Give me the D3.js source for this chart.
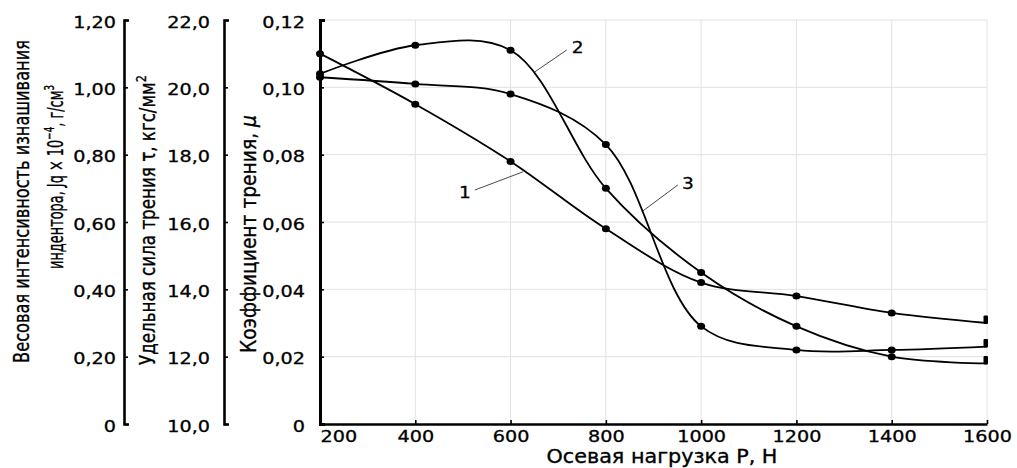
<!DOCTYPE html>
<html><head><meta charset="utf-8">
<script src="https://cdn.jsdelivr.net/npm/d3@7"></script>
<style>body{margin:0;background:#fff;} svg{display:block;}</style>
</head><body>
<svg id="chart" width="1017" height="468"></svg>
<script>
// ---------- DATA ----------
const loads  = [200, 400, 600, 800, 1000, 1200, 1400, 1600];
const curve1 = [0.110, 0.095, 0.078, 0.058, 0.042, 0.038, 0.033, 0.030];
const curve2 = [0.104, 0.1125, 0.111, 0.070, 0.045, 0.029, 0.020, 0.018];
const curve3 = [0.103, 0.101, 0.098, 0.083, 0.029, 0.022, 0.022, 0.023];
const seriesNames = ["1", "2", "3"];
const xTicks   = [200, 400, 600, 800, 1000, 1200, 1400, 1600];
const muTicks  = [0, 0.02, 0.04, 0.06, 0.08, 0.10, 0.12];
const jqTicks  = [0, 0.2, 0.4, 0.6, 0.8, 1.0, 1.2];
const tauTicks = [10, 12, 14, 16, 18, 20, 22];
// curve-number annotations (data coordinates: load, mu) and their leader lines
const labelPos  = [[504, 0.0689], [741, 0.1117], [972, 0.0713]];
const leaderA   = [[525, 0.0695], [718, 0.1111], [951, 0.0710]];
const leaderB   = [[626, 0.0749], [651, 0.1046], [878, 0.0633]];

// ---------- LAYOUT ----------
const FONT = "'DejaVu Sans', Verdana, sans-serif";
const svg = d3.select("#chart");
const X0 = 320, X1 = 987, Y0 = 424, Y1 = 20;
const x   = d3.scaleLinear().domain([200, 1600]).range([X0, X1]);
const yMu = d3.scaleLinear().domain([0, 0.12]).range([Y0, Y1]);
const yJq = d3.scaleLinear().domain([0, 1.2]).range([Y0, Y1]);
const yTau= d3.scaleLinear().domain([10, 22]).range([Y0, Y1]);
const comma = s => s.replace(".", ",");
const TS = 1.28; // horizontal stretch of tick text
const TF = 15;   // tick font size

// grid
const grid = svg.append("g").attr("stroke", "#e2e2e2").attr("stroke-width", 1);
grid.selectAll("line.v").data(xTicks.slice(1)).join("line")
  .attr("x1", d => x(d)).attr("x2", d => x(d)).attr("y1", Y1).attr("y2", Y0);
grid.selectAll("line.h").data(muTicks.slice(1)).join("line")
  .attr("x1", X0).attr("x2", X1).attr("y1", d => yMu(d)).attr("y2", d => yMu(d));

function styleAxis(g, sw) {
  g.select(".domain").attr("stroke", "#000").attr("stroke-width", sw);
  g.selectAll(".tick line").attr("stroke", "#000").attr("stroke-width", 1.6);
}
function styleText(sel, size) {
  sel.attr("font-family", FONT).attr("font-size", size).attr("fill", "#000")
    .attr("stroke", "#000").attr("stroke-width", 0.3);
}
function stretchYLabels(g, pad) {
  const t = g.selectAll(".tick text").attr("x", null).attr("dy", null)
    .attr("text-anchor", "end")
    .attr("transform", `translate(${-pad},7) scale(${TS},1)`);
  styleText(t, TF);
}

// left axis: Jq
const gJq = svg.append("g").attr("transform", "translate(124,0)")
  .call(d3.axisLeft(yJq).tickValues(jqTicks).tickSizeInner(-4).tickSizeOuter(-5)
    .tickPadding(0).tickFormat(d => d === 0 ? "0" : comma(d3.format(".2f")(d))));
styleAxis(gJq, 2.6); stretchYLabels(gJq, 8);

// left axis: tau
const gTau = svg.append("g").attr("transform", "translate(224,0)")
  .call(d3.axisLeft(yTau).tickValues(tauTicks).tickSizeInner(-4).tickSizeOuter(-5)
    .tickPadding(0).tickFormat(d => comma(d3.format(".1f")(d))));
styleAxis(gTau, 2.6); stretchYLabels(gTau, 14);

// main axis: mu
const gMu = svg.append("g").attr("transform", `translate(${X0},0)`)
  .call(d3.axisLeft(yMu).tickValues(muTicks).tickSizeInner(-4).tickSizeOuter(-5)
    .tickPadding(0).tickFormat(d => d === 0 ? "0" : comma(d3.format(".2f")(d))));
styleAxis(gMu, 3); stretchYLabels(gMu, 15);

// x axis
const gX = svg.append("g").attr("transform", `translate(0,${Y0})`)
  .call(d3.axisBottom(x).tickValues(xTicks).tickSizeInner(-4).tickSizeOuter(0)
    .tickPadding(0).tickFormat(d3.format("d")));
styleAxis(gX, 2.6);
const xt = gX.selectAll(".tick text").attr("y", null).attr("dy", null)
  .attr("text-anchor", (d, i) => i === 0 ? "start" : "middle")
  .attr("transform", `translate(0,18) scale(${TS},1)`);
styleText(xt, TF);

// curves
const line = d3.line().x((d, i) => x(loads[i])).y(d => yMu(d)).curve(d3.curveCatmullRom.alpha(0.5));
const series = [curve1, curve2, curve3];
const gLines = svg.append("g");
series.forEach(s => {
  gLines.append("path").attr("d", line(s)).attr("fill", "none")
    .attr("stroke", "#000").attr("stroke-width", 1.8);
  gLines.selectAll(null).data(s.slice(0, -1)).join("ellipse")
    .attr("cx", (d, i) => x(loads[i])).attr("cy", d => yMu(d))
    .attr("rx", 4).attr("ry", 3.5).attr("fill", "#000");
  const last = s[s.length - 1];
  gLines.append("rect").attr("x", x(loads[loads.length - 1]) - 3.5).attr("y", yMu(last) - 7.5)
    .attr("width", 4.5).attr("height", 8.5).attr("rx", 1).attr("fill", "#000");
});

// leaders + labels
seriesNames.forEach((n, i) => {
  svg.append("line")
    .attr("x1", x(leaderA[i][0])).attr("y1", yMu(leaderA[i][1]))
    .attr("x2", x(leaderB[i][0])).attr("y2", yMu(leaderB[i][1]))
    .attr("stroke", "#333").attr("stroke-width", 0.9);
  const t = svg.append("text").text(n).attr("text-anchor", "middle")
    .attr("transform", `translate(${x(labelPos[i][0])},${yMu(labelPos[i][1]) + 5.5}) scale(1.2,1)`);
  styleText(t, 15.5);
});

// fitted titles
function fitText(parts, o) {
  const t = svg.append("text").attr("text-anchor", "middle");
  styleText(t, o.size);
  t.attr("stroke-width", 0.35);
  parts.forEach(p => {
    const ts = t.append("tspan").text(p.t);
    if (p.sup) ts.attr("dy", -0.42 * o.size).attr("font-size", o.size * 0.68);
    if (p.down) ts.attr("dy", 0.42 * o.size);
    if (p.it) ts.attr("font-style", "italic");
  });
  const w = t.node().getComputedTextLength();
  t.attr("transform", `translate(${o.x},${o.y}) rotate(${o.rot || 0}) scale(${o.len / w},1)`);
}
fitText([{t: "Весовая интенсивность изнашивания"}], {x: 28.5, y: 201.5, rot: -90, size: 21, len: 323});
fitText([{t: "индентора, Jq × 10"}, {t: "−4", sup: true}, {t: ", г/см", down: true}, {t: "3", sup: true}],
  {x: 63, y: 177, rot: -90, size: 21, len: 184});
fitText([{t: "Удельная сила трения τ, кгс/мм"}, {t: "2", sup: true}],
  {x: 155, y: 220, rot: -90, size: 21, len: 290});
fitText([{t: "Коэффициент трения, "}, {t: "μ", it: true}],
  {x: 256, y: 234, rot: -90, size: 21, len: 238});
fitText([{t: "Осевая нагрузка Р, Н"}], {x: 662, y: 463, rot: 0, size: 19.5, len: 231});
</script>
</body></html>
